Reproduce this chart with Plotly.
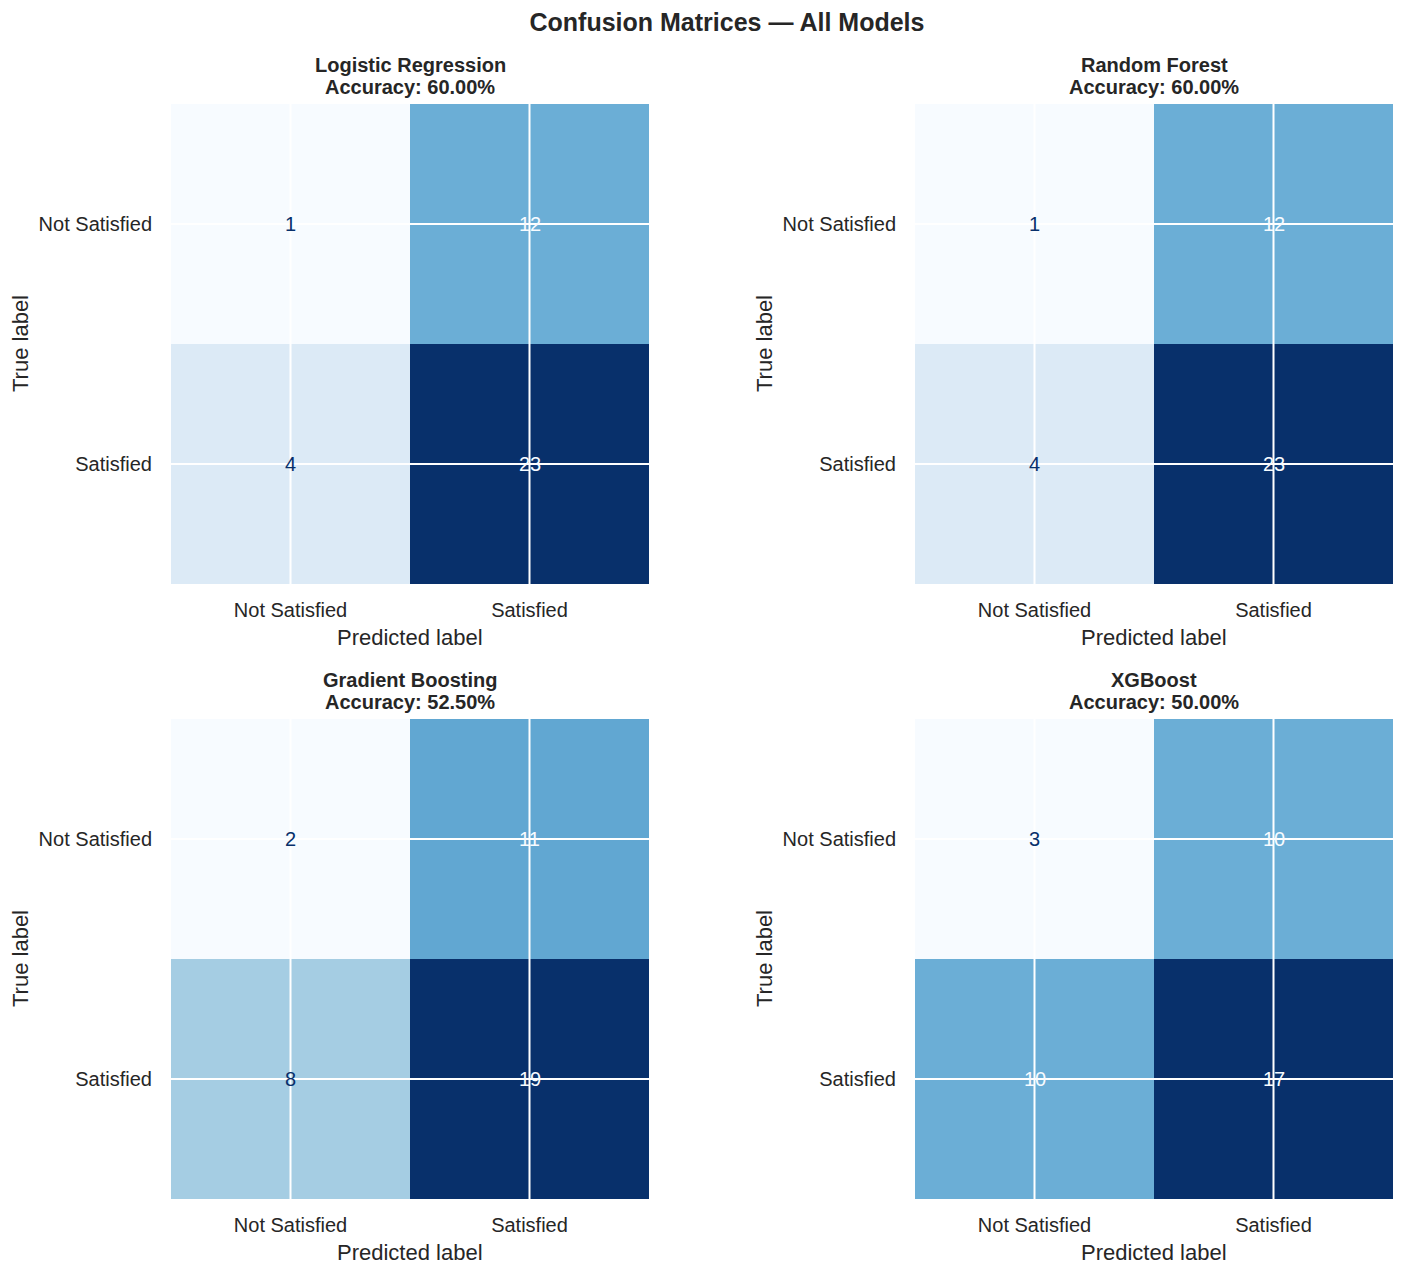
import plotly.graph_objects as go

# Data
models = ['Logistic Regression', 'Random Forest', 'Gradient Boosting', 'XGBoost']
accuracies = [60.00, 60.00, 52.50, 50.00]
labels = ['Not Satisfied', 'Satisfied']
cm_lr = [[1, 12], [4, 23]]
cm_rf = [[1, 12], [4, 23]]
cm_gb = [[2, 11], [8, 19]]
cm_xgb = [[3, 10], [10, 17]]
matrices = [cm_lr, cm_rf, cm_gb, cm_xgb]

# matplotlib "Blues"
blues = ['#f7fbff', '#deebf7', '#c6dbef', '#9ecae1', '#6baed6',
         '#4292c6', '#2171b5', '#08519c', '#08306b']
cscale = [[i / 8, c] for i, c in enumerate(blues)]

# page has an 8px body margin, so the figure is a bit smaller than the window
OFF = 8
W, H = 1400, 1268
FONT = 'Liberation Sans, Arial, sans-serif'
TXT = '#262626'


def px(x):
    return (x - OFF) / W


def py(y):
    return 1 - (y - OFF) / H


# page pixel boxes of each panel (left, right, top, bottom)
boxes = [(171, 649, 104, 584), (915, 1393, 104, 584),
         (171, 649, 719, 1199), (915, 1393, 719, 1199)]

fig = go.Figure()
layout = dict(width=W, height=H, margin=dict(l=0, r=0, t=0, b=0),
              paper_bgcolor='white', plot_bgcolor='white',
              font=dict(family=FONT, color=TXT), showlegend=False)
annotations = []
shapes = []

for k, (name, acc, cm) in enumerate(zip(models, accuracies, matrices)):
    sfx = '' if k == 0 else str(k + 1)
    xa, ya = 'x' + sfx, 'y' + sfx
    l, r, t, b = boxes[k]
    flat = [v for row in cm for v in row]
    vmin, vmax = min(flat), max(flat)
    thresh = (vmin + vmax) / 2

    fig.add_trace(go.Heatmap(z=cm, x=labels, y=labels, colorscale=cscale,
                             zmin=vmin, zmax=vmax, showscale=False,
                             hoverinfo='skip', xaxis=xa, yaxis=ya))

    # cell values (annotations sit above the grid lines)
    for i, yl in enumerate(labels):
        for j, xl in enumerate(labels):
            col = blues[-1] if cm[i][j] < thresh else blues[0]
            annotations.append(dict(xref=xa, yref=ya, x=xl, y=yl, text=str(cm[i][j]),
                                    showarrow=False, font=dict(size=20, color=col, family=FONT)))

    # white grid lines at tick positions, drawn over the cells
    for lab in labels:
        shapes.append(dict(type='line', xref=xa + ' domain', yref=ya, x0=0, x1=1,
                           y0=lab, y1=lab, line=dict(color='white', width=2), layer='above'))
        shapes.append(dict(type='line', xref=xa, yref=ya + ' domain', x0=lab, x1=lab,
                           y0=0, y1=1, line=dict(color='white', width=2), layer='above'))

    layout['xaxis' + sfx] = dict(domain=[px(l), px(r)], anchor=ya, type='category',
                                 showgrid=False, zeroline=False, showline=False,
                                 ticks='', ticklabelstandoff=12, automargin=False,
                                 tickfont=dict(size=20, color=TXT))
    layout['yaxis' + sfx] = dict(domain=[py(b), py(t)], anchor=xa, type='category',
                                 autorange='reversed', showgrid=False, zeroline=False,
                                 showline=False, ticks='', ticklabelstandoff=18,
                                 automargin=False, tickfont=dict(size=20, color=TXT))

    # panel titles
    annotations.append(dict(xref='paper', yref='paper', x=px((l + r) / 2), y=py(t - 39),
                            xanchor='center', yanchor='middle', showarrow=False,
                            text=f'<b>{name}</b>',
                            font=dict(size=20, color=TXT, family=FONT)))
    annotations.append(dict(xref='paper', yref='paper', x=px((l + r) / 2), y=py(t - 17),
                            xanchor='center', yanchor='middle', showarrow=False,
                            text=f'<b>Accuracy: {acc:.2f}%</b>',
                            font=dict(size=20, color=TXT, family=FONT)))
    # axis titles
    annotations.append(dict(xref='paper', yref='paper', x=px((l + r) / 2), y=py(b + 53),
                            xanchor='center', yanchor='middle', showarrow=False,
                            text='Predicted label', font=dict(size=22, color=TXT, family=FONT)))
    annotations.append(dict(xref='paper', yref='paper', x=px(l - 151), y=py((t + b) / 2),
                            xanchor='center', yanchor='middle', showarrow=False, textangle=-90,
                            text='True label', font=dict(size=22, color=TXT, family=FONT)))

layout['annotations'] = annotations
layout['shapes'] = shapes
layout['title'] = dict(text='<b>Confusion Matrices — All Models</b>', x=px(727), xanchor='center',
                       y=py(22), yanchor='middle', font=dict(size=25, color=TXT, family=FONT))
fig.update_layout(**layout)

fig.write_html("out.html")
